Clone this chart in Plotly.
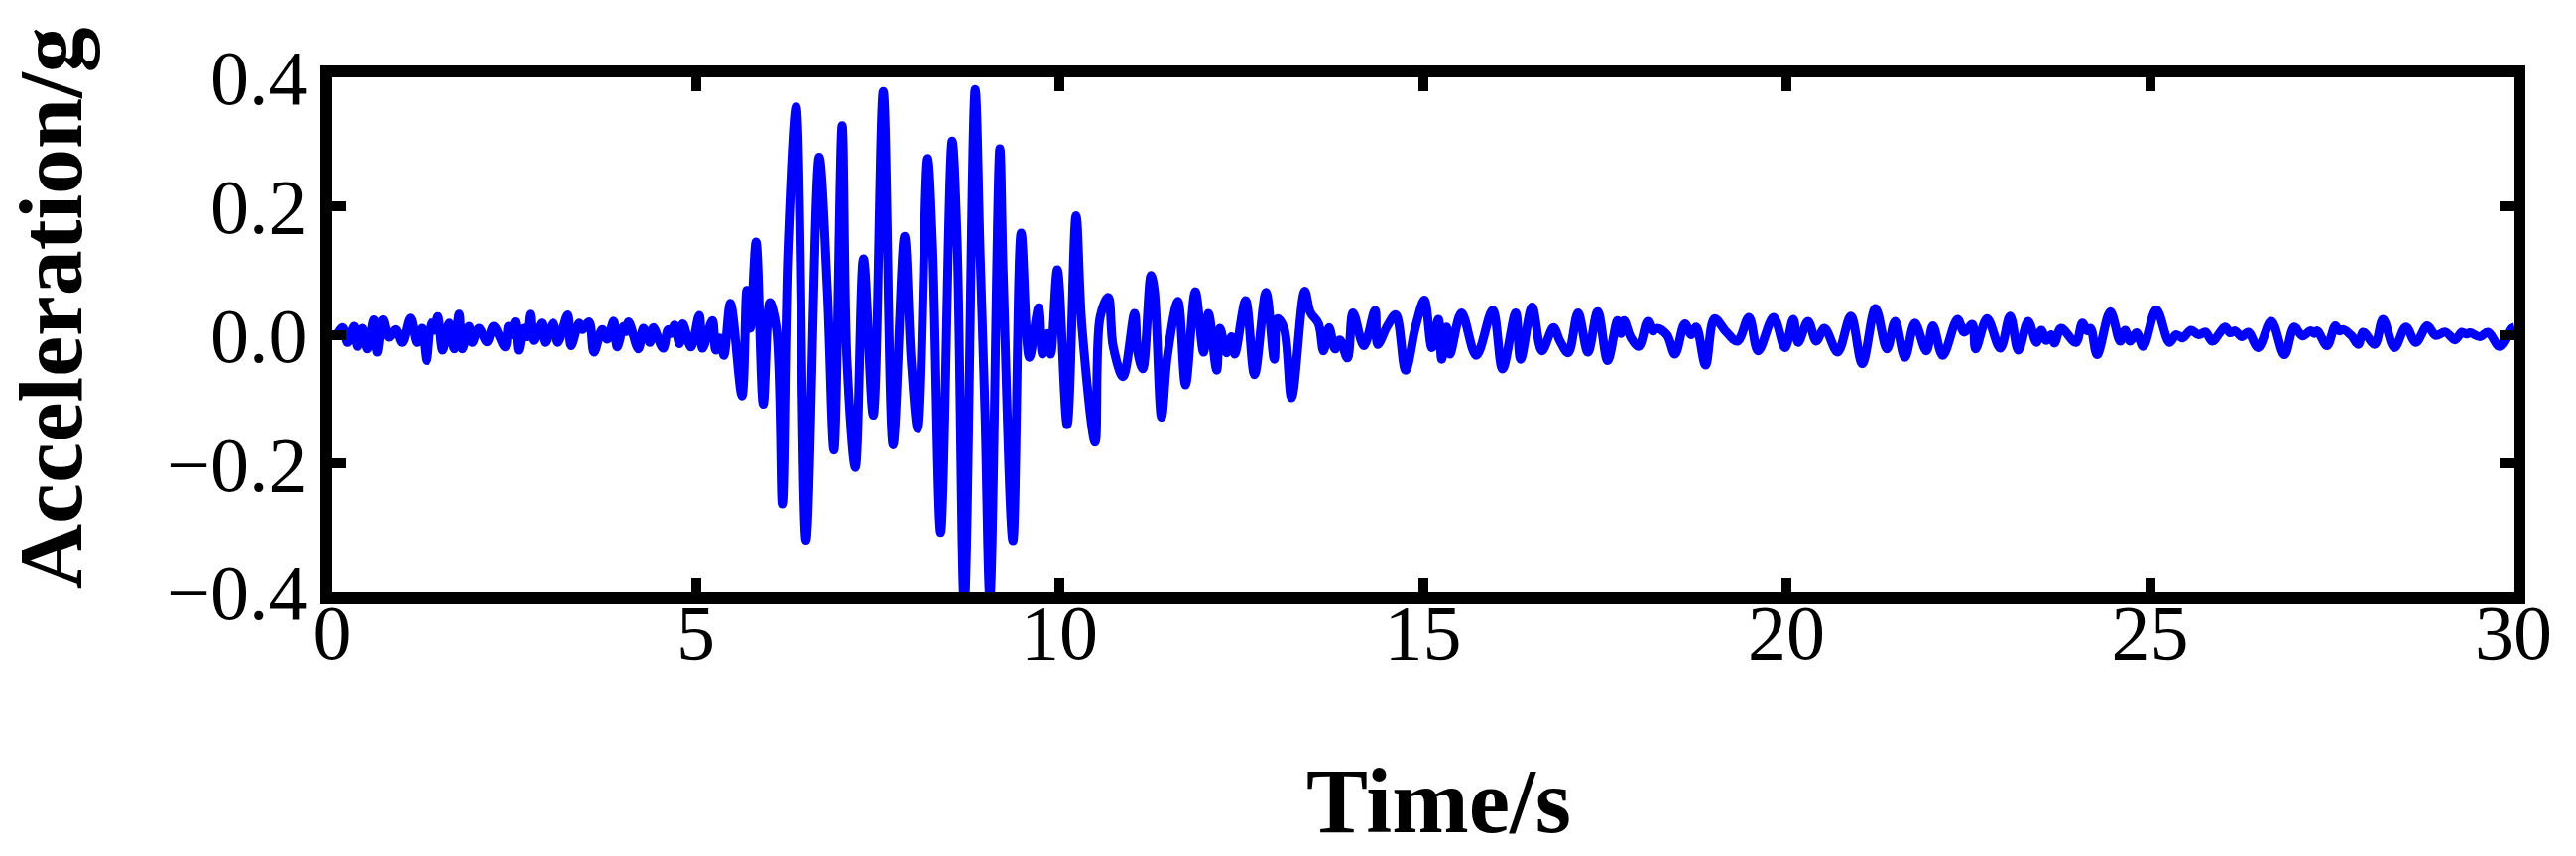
import plotly.graph_objects as go

# ---- data (time in s, acceleration in g) ----
time_s = [
    0.000, 0.054, 0.145, 0.212, 0.303, 0.348, 0.416, 0.483, 0.574, 0.619,
    0.696, 0.777, 0.868, 0.958, 1.071, 1.161, 1.229, 1.297, 1.365, 1.410,
    1.455, 1.523, 1.613, 1.681, 1.749, 1.794, 1.884, 1.929, 2.020, 2.133,
    2.223, 2.381, 2.426, 2.470, 2.517, 2.562, 2.630, 2.675, 2.720, 2.765,
    2.878, 2.924, 3.036, 3.104, 3.240, 3.285, 3.398, 3.443, 3.534, 3.601,
    3.714, 3.782, 3.872, 3.918, 4.008, 4.040, 4.076, 4.211, 4.279, 4.369,
    4.415, 4.550, 4.618, 4.660, 4.708, 4.776, 4.821, 4.934, 5.047, 5.093,
    5.228, 5.273, 5.330, 5.386, 5.476, 5.635, 5.702, 5.748, 5.829, 5.928,
    6.019, 6.109, 6.190, 6.267, 6.380, 6.516, 6.697, 6.809, 6.900, 7.013,
    7.081, 7.194, 7.307, 7.440, 7.578, 7.713, 7.871, 7.962, 8.052, 8.188,
    8.255, 8.368, 8.526, 8.594, 8.694, 8.843, 8.911, 8.978, 9.046, 9.182,
    9.227, 9.362, 9.475, 9.588, 9.715, 9.769, 9.837, 9.882, 9.973, 10.108,
    10.230, 10.311, 10.492, 10.560, 10.673, 10.740, 10.876, 11.034, 11.080, 11.147,
    11.260, 11.305, 11.405, 11.486, 11.631, 11.735, 11.870, 11.983, 12.051, 12.164,
    12.209, 12.300, 12.367, 12.413, 12.562, 12.684, 12.842, 12.955, 13.000, 13.090,
    13.194, 13.375, 13.452, 13.565, 13.633, 13.710, 13.791, 13.858, 13.962, 14.039,
    14.188, 14.342, 14.378, 14.513, 14.627, 14.762, 14.898, 15.020, 15.124, 15.214,
    15.259, 15.327, 15.372, 15.530, 15.734, 15.960, 16.095, 16.276, 16.344, 16.502,
    16.637, 16.796, 16.886, 16.999, 17.134, 17.270, 17.405, 17.541, 17.677, 17.722,
    17.767, 17.860, 17.970, 18.092, 18.160, 18.219, 18.355, 18.467, 18.603, 18.693,
    18.761, 18.888, 19.010, 19.168, 19.326, 19.484, 19.611, 19.823, 19.981, 20.094,
    20.162, 20.297, 20.410, 20.523, 20.704, 20.885, 21.043, 21.224, 21.382, 21.495,
    21.630, 21.766, 21.924, 22.014, 22.150, 22.353, 22.444, 22.556, 22.602, 22.760,
    22.941, 23.076, 23.189, 23.325, 23.438, 23.506, 23.573, 23.641, 23.686, 23.777,
    23.980, 24.070, 24.140, 24.183, 24.273, 24.455, 24.590, 24.658, 24.726, 24.816,
    24.906, 25.087, 25.268, 25.360, 25.449, 25.562, 25.670, 25.765, 25.856, 26.036,
    26.100, 26.172, 26.262, 26.352, 26.488, 26.668, 26.849, 26.984, 27.097, 27.210,
    27.260, 27.300, 27.436, 27.549, 27.600, 27.662, 27.775, 27.866, 27.934, 28.092,
    28.205, 28.363, 28.521, 28.657, 28.815, 28.928, 29.064, 29.198, 29.290, 29.350,
    29.403, 29.539, 29.651, 29.808, 29.967, 30.000,
]

accel_g = [
    0.000, 0.000, 0.011, -0.012, 0.013, -0.018, 0.010, -0.022, 0.023, -0.027,
    0.023, -0.004, 0.008, -0.012, 0.026, -0.012, 0.010, -0.040, 0.018, 0.007,
    0.028, -0.024, 0.018, -0.022, 0.032, -0.022, 0.013, -0.012, 0.010, -0.011,
    0.013, -0.019, 0.013, 0.000, 0.020, -0.024, 0.010, -0.003, 0.032, -0.009,
    0.018, -0.012, 0.018, -0.012, 0.031, -0.017, 0.018, 0.008, 0.020, -0.027,
    0.008, -0.007, 0.021, -0.019, 0.013, 0.005, 0.020, -0.022, 0.010, -0.012,
    0.011, -0.021, 0.008, 0.002, 0.015, -0.014, 0.017, -0.019, 0.030, -0.021,
    0.022, -0.024, -0.005, -0.032, 0.049, -0.095, 0.069, 0.010, 0.144, -0.108,
    0.050, 0.010, -0.263, 0.130, 0.354, -0.319, 0.276, 0.070, -0.179, 0.325,
    -0.045, -0.206, 0.118, -0.125, 0.378, -0.171, 0.153, -0.040, -0.146, 0.274,
    0.140, -0.307, 0.301, 0.150, -0.420, 0.381, 0.124, -0.120, -0.410, 0.289,
    0.097, -0.320, 0.158, -0.035, 0.042, -0.030, 0.002, -0.030, 0.101, -0.140,
    0.185, 0.012, -0.167, 0.027, 0.058, -0.018, -0.065, 0.033, -0.028, -0.053,
    0.092, 0.070, -0.128, -0.033, 0.052, -0.078, 0.067, -0.027, 0.033, -0.055,
    0.010, -0.028, -0.003, -0.030, 0.053, -0.062, 0.066, -0.038, 0.025, 0.010,
    -0.098, 0.068, 0.035, 0.017, -0.025, 0.011, -0.022, -0.008, -0.036, 0.034,
    -0.017, 0.038, -0.015, 0.014, 0.031, -0.055, 0.012, 0.054, -0.020, 0.024,
    -0.038, 0.012, -0.030, 0.034, -0.032, 0.038, -0.053, 0.034, -0.038, 0.043,
    -0.025, 0.011, -0.010, -0.028, 0.034, -0.027, 0.036, -0.040, 0.022, 0.002,
    0.022, -0.004, -0.018, 0.021, 0.006, 0.010, 0.000, -0.030, 0.017, 0.000,
    0.012, -0.047, 0.025, 0.005, -0.010, 0.027, -0.025, 0.027, -0.020, 0.024,
    -0.012, 0.021, -0.010, 0.010, -0.027, 0.029, -0.045, 0.041, -0.022, 0.021,
    -0.035, 0.018, -0.025, 0.014, -0.032, 0.024, 0.004, 0.016, -0.022, 0.025,
    -0.021, 0.029, -0.024, 0.021, -0.012, 0.007, -0.009, 0.000, -0.013, 0.010,
    -0.012, 0.018, 0.006, 0.010, -0.031, 0.036, -0.010, 0.007, -0.010, 0.003,
    -0.018, 0.039, -0.012, 0.000, -0.005, 0.007, 0.000, 0.004, -0.010, 0.012,
    0.003, 0.006, -0.003, 0.004, -0.020, 0.021, -0.031, 0.012, -0.002, 0.006,
    0.002, 0.006, -0.017, 0.014, 0.006, 0.008, -0.002, -0.015, 0.004, -0.015,
    0.024, -0.020, 0.012, -0.012, 0.014, -0.001, 0.004, -0.008, 0.004, 0.001,
    0.003, -0.003, 0.004, -0.018, 0.010, 0.012,
]

x_ticks = [0, 5, 10, 15, 20, 25, 30]
x_tick_labels = ["0", "5", "10", "15", "20", "25", "30"]
y_ticks = [-0.4, -0.2, 0.0, 0.2, 0.4]
y_tick_labels = ["\u22120.4", "\u22120.2", "0.0", "0.2", "0.4"]

x_title = "Time/s"
y_title = "Acceleration/g"

fig = go.Figure()
fig.add_trace(go.Scatter(
    x=time_s, y=accel_g, mode="lines",
    line=dict(color="#0000FF", width=9, shape="spline", smoothing=1.0),
    hoverinfo="skip", showlegend=False,
))

FONT = "Liberation Serif, Times New Roman, serif"

axis_common = dict(
    ticks="inside", ticklen=14, tickwidth=10, tickcolor="black",
    showline=True, linewidth=12, linecolor="black", mirror="ticks",
    showgrid=False, zeroline=False,
    tickfont=dict(family=FONT, size=78, color="black"),
)

fig.update_xaxes(range=[0, 30], tickvals=x_ticks, ticktext=x_tick_labels,
                 ticklabelstandoff=-39, **axis_common)
fig.update_yaxes(range=[-0.4, 0.4], tickvals=y_ticks, ticktext=y_tick_labels,
                 ticklabelstandoff=-2, **axis_common)

fig.update_layout(
    width=2597, height=863,
    margin=dict(l=335, r=63, t=78, b=266),
    paper_bgcolor="white", plot_bgcolor="white",
    font=dict(family=FONT, color="black"),
    showlegend=False,
    annotations=[
        dict(text="<b>%s</b>" % x_title, xref="paper", yref="paper",
             x=0.5075, y=-0.406, xanchor="center", yanchor="middle",
             showarrow=False, font=dict(family=FONT, size=93, color="black")),
        dict(text="<b>%s</b>" % y_title, xref="paper", yref="paper",
             x=-0.129, y=0.551, xanchor="center", yanchor="middle",
             textangle=-90, showarrow=False,
             font=dict(family=FONT, size=92, color="black")),
    ],
)

fig.write_html("out.html",
               config={"displayModeBar": False, "staticPlot": True},
               post_script="document.body.style.margin='0px';document.body.style.overflow='hidden';")
